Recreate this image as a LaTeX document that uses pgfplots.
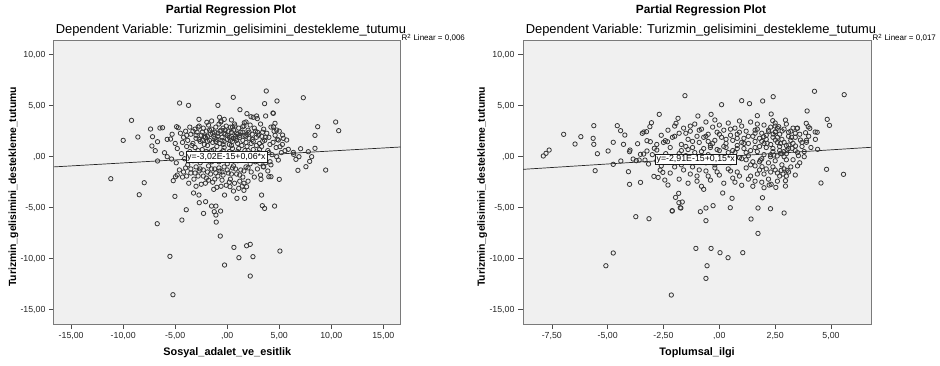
\documentclass[border=0pt]{standalone}
\usepackage{fontspec}
\setmainfont{Liberation Sans}
\usepackage{pgfplots}
\usepackage{pgfplotstable}
\pgfplotsset{compat=1.18}
\definecolor{bgc}{HTML}{F0F0F0}
\definecolor{mk}{HTML}{363636}
\definecolor{axc}{HTML}{7A7A7A}

\pgfplotstableread{
x y
3.75 6.44
0.58 5.82
7.31 5.78
-4.58 5.26
-3.72 5.03
-0.90 5.03
3.59 5.20
4.78 5.46
1.22 4.61
4.39 4.28
1.89 4.22
2.82 3.99
2.50 3.86
3.69 3.99
-2.72 3.66
-1.96 3.37
-0.74 3.86
-0.29 3.66
-0.61 3.40
-9.20 3.56
10.42 3.40
10.71 2.55
8.69 2.94
8.43 2.09
-10.0 1.60
-8.59 1.93
-7.37 2.71
-7.18 1.96
-6.47 2.81
-6.22 2.84
-6.70 1.47
-7.24 1.05
-6.92 0.59
-6.03 0.39
-5.77 1.70
-5.45 1.73
-6.70 -0.42
-5.77 0.00
-5.35 -0.23
-4.87 2.94
-4.71 2.84
-11.19 -2.16
-7.98 -2.55
-8.46 -3.73
-5.19 -2.35
-4.97 -1.96
-4.81 -1.80
-5.03 -3.89
-3.94 -5.20
-6.73 -6.57
-4.36 -6.21
-3.24 -3.56
-2.72 -3.76
-2.69 -4.51
-2.08 -4.41
-2.28 -5.56
-1.51 -4.84
-1.09 -4.84
-1.25 -5.39
-1.09 -5.72
-0.64 -5.33
-1.06 -6.41
-0.67 -7.78
-0.26 -3.76
0.93 -4.08
1.67 -4.08
3.30 -3.76
3.37 -4.80
3.59 -5.07
4.55 -4.84
5.00 -2.22
6.79 -1.34
7.56 -0.98
9.46 -1.31
7.92 -0.46
8.11 0.00
7.05 0.78
7.79 0.49
8.43 0.82
6.38 0.23
6.60 -0.26
6.89 0.00
0.64 -8.89
1.86 -8.73
2.21 -8.59
1.12 -9.90
2.47 -9.80
5.06 -9.25
-0.26 -10.62
-5.51 -9.77
2.21 -11.70
-5.22 -13.53
4.00 -1.96
4.20 -1.96
3.24 -2.22
1.60 -3.30
1.86 -2.94
1.44 -2.88
0.60 -3.37
0.26 -2.94
5.87 0.72
5.55 0.59
6.35 0.42
4.91 1.63
5.07 0.98
4.75 0.00
4.91 -0.33
4.11 -0.49
3.46 -0.98
3.14 -0.65
4.43 2.94
4.59 3.27
4.75 2.61
5.32 2.12
5.39 1.80
5.71 1.63
4.43 4.25
2.28 3.92
2.89 3.73
1.64 3.33
0.74 3.01
1.48 2.94
-4.5 2.3
-4.2 1.9
-4.0 2.5
-3.8 1.6
-3.6 2.9
-3.5 2.2
-3.3 1.3
-3.1 2.7
-3.0 1.8
-2.9 2.4
-2.7 3.0
-2.6 1.5
-2.5 2.1
-2.3 2.8
-2.2 1.2
-2.1 1.9
-2.0 2.5
-1.8 3.1
-1.7 1.6
-1.6 2.2
-1.5 2.7
-1.4 1.4
-1.3 2.0
-1.1 2.9
-1.0 1.7
-0.9 2.3
-0.8 3.2
-0.7 1.3
-0.6 2.6
-0.5 1.9
-0.4 2.8
-0.3 1.5
-0.2 2.2
-0.1 3.0
0.0 1.7
0.1 2.5
0.2 1.2
0.3 2.9
0.4 2.0
0.5 1.5
0.6 2.6
0.7 3.2
0.8 1.8
0.9 2.3
1.0 1.3
1.1 2.8
1.2 1.9
1.3 2.4
1.5 1.6
1.6 3.0
1.7 2.1
1.8 1.4
2.0 2.6
2.1 1.8
2.2 3.1
2.4 2.2
2.5 1.5
2.6 2.8
2.8 1.9
2.9 2.4
3.1 1.3
3.2 3.2
3.3 2.0
3.5 2.7
3.6 1.6
3.8 2.3
4.0 1.9
4.2 2.9
4.4 1.4
4.6 2.1
5.0 2.5
5.3 1.2
-4.8 0.8
-4.4 0.3
-4.1 -0.2
-3.9 1.0
-3.6 0.5
-3.3 -0.4
-3.1 0.9
-2.9 0.2
-2.6 -0.6
-2.4 0.7
-2.1 0.1
-1.9 1.1
-1.7 -0.3
-1.5 0.6
-1.2 0.0
-1.0 1.0
-0.8 -0.5
-0.6 0.4
-0.3 0.9
-0.1 -0.2
0.2 0.5
0.4 1.1
0.6 -0.4
0.9 0.3
1.1 0.8
1.4 -0.1
1.7 0.6
1.9 1.0
2.2 0.0
2.5 0.7
2.7 -0.5
3.0 0.4
3.3 1.0
3.6 -0.2
3.9 0.6
4.3 0.2
4.7 0.9
5.2 0.4
-4.6 -1.3
-4.3 -2.0
-4.0 -1.1
-3.7 -2.6
-3.5 -1.6
-3.2 -2.2
-3.0 -1.0
-2.8 -1.9
-2.5 -2.7
-2.3 -1.3
-2.0 -2.1
-1.8 -0.9
-1.6 -1.7
-1.4 -2.5
-1.2 -1.2
-1.0 -3.0
-0.9 -1.9
-0.7 -1.4
-0.5 -2.3
-0.3 -1.0
-0.1 -2.8
0.1 -1.6
0.3 -2.2
0.5 -1.1
0.7 -2.6
0.9 -1.7
1.1 -3.1
1.3 -1.3
1.5 -2.0
1.8 -1.0
2.0 -2.4
2.3 -1.5
2.6 -2.0
2.9 -1.2
3.2 -1.8
3.5 -1.0
3.9 -1.4
4.2 -0.8
-2.4 1.6
-1.9 2.0
-1.1 1.5
-0.4 1.2
0.3 1.6
0.8 2.0
1.4 1.1
1.9 2.2
2.3 1.3
-1.2 2.4
-0.2 2.6
0.5 2.9
1.0 2.2
-2.8 2.9
-3.4 1.1
-1.5 -0.5
-0.5 -1.5
0.0 -0.7
0.6 -0.9
1.2 -2.4
-2.6 -1.2
-3.8 -0.8
2.2 -0.7
2.8 1.1
3.4 1.5
4.1 1.2
-0.9 0.3
0.1 0.2
1.0 -0.4
-1.8 -2.3
-1.3 -3.2
-0.6 -2.9
-2.0 0.5
-3.0 -2.9
-5.0 1.3
-5.3 2.2
-4.9 -0.6
-3.0 2.1
-2.7 1.7
-2.4 2.4
-2.2 2.0
-1.9 1.5
-1.7 2.6
-1.4 2.3
-1.2 1.8
-0.9 2.0
-0.7 2.5
-0.5 1.6
-0.3 2.3
0.0 2.1
0.2 1.9
0.4 2.4
0.6 1.8
0.9 1.6
1.2 2.1
1.5 2.4
1.8 2.0
2.1 2.4
2.4 1.7
2.7 2.5
3.0 2.1
3.4 2.4
3.7 1.9
-2.8 0.6
-2.3 0.2
-1.8 0.4
-1.3 0.7
-0.8 0.2
-0.4 0.6
0.0 0.3
0.5 0.8
1.0 0.5
1.5 0.3
2.0 0.6
2.6 0.2
3.1 0.7
-3.5 -1.2
-3.1 -1.6
-2.7 -1.4
-2.3 -1.9
-1.9 -1.5
-1.5 -1.2
-1.1 -1.6
-0.8 -1.1
-0.4 -1.8
0.0 -1.3
0.4 -1.7
0.8 -1.2
1.2 -1.8
1.6 -1.4
2.0 -1.1
-4.2 -1.5
-3.9 -1.9
-2.1 -2.6
-1.2 -2.2
0.2 -2.5
1.6 -2.6
-3.3 2.5
-3.9 2.1
-4.3 1.4
4.5 2.5
4.8 1.7
4.0 0.4
3.7 -0.6
-0.6 3.5
0.4 3.6
1.8 3.4
-1.5 3.5
}\leftdata

\pgfplotstableread{
x y
-7.88 0.07
-7.76 0.33
-7.62 0.65
-6.97 2.19
-6.46 1.24
-6.20 1.96
-5.62 3.04
-5.65 1.80
-5.62 1.21
-5.46 0.29
-5.56 -1.37
-4.98 0.56
-4.75 1.41
-4.75 -0.75
-4.57 3.04
-4.42 2.55
-4.23 2.12
-4.29 1.21
-4.41 -0.42
-4.07 -1.47
-4.02 -2.71
-4.00 0.65
-4.02 0.49
-3.66 1.27
-3.53 -2.52
-3.74 -5.88
-3.15 -6.08
-4.75 -9.44
-5.08 -10.69
-2.15 -13.56
-2.69 4.15
-1.54 5.98
-3.45 2.29
-3.38 2.42
-3.26 2.45
-3.11 2.94
-3.04 3.33
-1.94 3.27
-1.85 3.76
0.10 5.10
1.00 5.49
1.35 5.20
1.94 5.46
2.41 5.88
-0.96 3.99
-0.37 4.15
1.70 4.02
2.32 4.18
-2.11 -5.29
-1.75 -5.00
-0.85 -5.39
-0.60 -5.03
-0.28 -4.80
-0.60 -6.27
0.15 -3.56
0.57 -4.08
0.49 -5.00
1.42 -6.11
1.73 -5.03
2.29 -5.10
1.93 -4.02
1.73 -7.52
-1.05 -8.99
-0.37 -8.99
0.03 -9.41
0.39 -9.90
1.05 -9.41
-0.55 -10.69
-0.60 -11.93
2.00 -3.04
2.23 -2.78
2.53 -3.01
4.26 6.41
5.59 6.08
3.93 4.48
2.39 3.53
2.96 3.59
4.83 3.66
4.93 3.07
3.89 3.27
3.98 2.94
4.05 2.78
3.86 2.35
4.29 2.42
4.38 2.39
4.30 1.70
3.90 1.41
3.48 2.78
3.63 1.63
3.23 1.90
2.66 2.94
2.81 2.52
2.52 2.45
2.41 2.22
4.40 0.72
3.54 0.10
4.80 -1.24
5.56 -1.73
4.55 -2.58
2.77 -1.34
2.85 -1.70
3.03 -1.34
2.96 -2.35
2.96 -2.88
2.32 -2.71
2.90 -5.52
-3.53 0.23
-3.39 0.26
-3.33 -0.33
-3.24 0.56
-3.17 -0.72
-3.86 -0.23
-3.72 -0.39
-3.59 -0.33
-3.24 1.57
-3.09 1.47
-2.91 0.82
-2.80 0.65
-2.65 -1.31
-2.53 -1.54
-2.93 -1.93
-2.74 -2.03
-2.44 -2.29
-2.30 -2.78
-2.32 1.47
-2.42 1.57
-2.20 -0.33
-1.94 -0.10
-1.96 -3.99
-1.81 -4.51
-1.66 -4.44
-1.72 -5.03
-2.11 -5.33
-1.82 -3.59
-2.3 2.6
-2.1 1.9
-2.0 3.0
-1.8 2.3
-1.7 1.2
-1.6 2.8
-1.4 1.7
-1.3 2.5
-1.2 0.9
-1.1 3.2
-1.0 2.0
-0.9 1.4
-0.8 2.7
-0.7 1.9
-0.6 3.4
-0.5 2.2
-0.4 1.1
-0.3 2.9
-0.2 1.6
-0.1 2.4
0.0 3.1
0.1 1.9
0.2 2.6
0.3 1.3
0.4 3.3
0.5 2.1
0.6 1.6
0.7 2.8
0.8 1.1
0.9 2.4
1.0 3.0
1.1 1.8
1.2 2.5
1.3 1.3
1.4 3.4
1.5 2.0
1.6 1.5
1.7 2.7
1.8 1.0
1.9 2.3
2.0 3.1
2.1 1.7
2.2 2.6
2.3 1.2
2.4 1.9
2.5 3.0
2.6 1.4
2.7 2.2
2.8 1.7
2.9 2.7
3.0 1.1
3.1 2.0
3.2 2.5
3.3 1.3
3.4 1.9
3.6 2.2
3.7 1.0
-2.4 0.3
-2.2 0.9
-1.9 -0.2
-1.7 0.6
-1.5 0.1
-1.3 -0.5
-1.1 0.4
-0.9 -0.3
-0.7 0.8
-0.5 0.2
-0.3 -0.4
-0.1 0.7
0.1 0.0
0.3 0.9
0.5 -0.6
0.7 0.4
0.9 -0.1
1.1 0.8
1.3 0.1
1.5 -0.5
1.7 0.5
1.9 -0.2
2.1 0.9
2.3 0.2
2.5 -0.4
2.7 0.6
2.9 0.0
3.1 0.8
3.3 -0.3
3.5 0.4
3.8 0.0
4.1 0.9
-2.6 -0.9
-2.2 -1.6
-2.0 -1.0
-1.8 -2.2
-1.6 -1.3
-1.4 -2.6
-1.2 -1.0
-1.0 -1.9
-0.8 -2.9
-0.6 -1.4
-0.4 -2.3
-0.2 -1.1
0.0 -1.8
0.2 -2.6
0.4 -1.2
0.6 -2.1
0.8 -1.5
1.0 -2.8
1.2 -1.1
1.4 -1.9
1.6 -2.4
1.8 -1.3
2.0 -1.7
2.2 -2.2
2.4 -1.0
2.6 -1.6
2.8 -0.8
3.2 -1.0
3.4 -1.8
3.6 -0.6
0.2 1.0
0.6 0.6
1.0 1.4
1.4 0.6
1.6 2.3
2.0 1.3
2.2 -0.6
2.5 2.4
2.8 0.3
3.0 -0.3
1.2 -0.3
0.8 1.8
1.8 1.8
2.4 0.8
2.6 2.8
3.2 1.6
-0.5 1.5
-1.5 1.0
-2.0 2.0
-0.2 -0.8
0.4 -0.2
1.6 -0.9
2.9 -1.2
3.5 2.8
3.9 1.6
-2.8 1.2
-2.6 2.1
-3.0 0.2
-2.8 -0.4
-1.0 -2.4
0.7 -2.5
1.5 -2.9
-0.7 -3.2
2.29 0.00
2.44 0.16
2.59 0.07
2.74 0.33
2.88 0.49
3.03 0.65
3.11 1.14
1.84 -0.33
1.91 -0.98
2.14 1.31
1.99 1.96
2.21 2.45
2.51 1.63
2.74 1.31
3.26 0.82
3.41 1.05
-1.5 2.3
-1.2 1.5
-0.9 2.6
-0.6 2.0
-0.3 1.3
0.0 2.2
0.3 1.7
0.5 2.7
0.8 2.2
1.1 1.3
1.3 2.0
1.6 2.6
1.9 1.5
2.1 2.1
2.3 2.9
2.6 1.9
2.9 1.4
3.1 2.4
3.4 2.3
-1.8 0.3
-1.4 0.7
-0.8 0.5
-0.4 0.9
0.0 0.6
0.4 0.4
0.8 0.8
1.2 0.4
1.6 0.9
2.0 0.2
2.4 0.5
2.7 1.0
3.0 0.3
3.4 0.6
1.0 -0.2
1.4 -0.8
1.8 -0.5
2.1 -1.2
2.5 -1.3
2.7 -1.9
3.1 -1.5
0.5 -1.4
0.9 -1.9
1.3 -2.2
1.7 -1.7
2.3 -1.5
-0.1 -1.5
-0.5 -1.9
-0.9 -1.3
-1.3 -1.7
-1.7 -0.8
0.3 -0.5
-0.6 -0.6
3.0 -1.9
2.6 -2.4
1.9 -2.5
2.5 3.3
3.0 3.2
3.3 2.8
0.9 3.5
-0.2 3.6
-1.3 3.0
1.7 3.2
3.7 1.4
4.0 2.0
3.8 0.5
3.5 -0.9
-2.5 1.4
-2.1 -0.4
}\rightdata

\tikzset{
  eqbox/.style={draw=black!90, fill=white, anchor=west, inner sep=1.3pt, line width=0.6pt, font=\fontsize{8.8}{10}\selectfont},
}
\pgfplotsset{
  sp/.style={
    anchor=south west, scale only axis, height=283pt,
    axis background/.style={fill=bgc},
    axis line style={axc, line width=1pt},
    tick align=outside, major tick length=5pt,
    tick style={black!70, line width=0.6pt},
    xtick pos=bottom, ytick pos=left,
    ymin=-16.4, ymax=11.34,
    ytick={-15,-10,-5,0,5,10},
    yticklabels={{-15,00},{-10,00},{-5,00},{,00},{5,00},{10,00}},
    tick label style={font=\fontsize{8.8}{10}\selectfont, black!85},
    xlabel style={font=\fontsize{10.9}{12}\bfseries\selectfont, at={(axis description cs:0.5,-0.1014)}, anchor=center},
    ylabel style={font=\fontsize{10.4}{12}\bfseries\selectfont, at={(axis description cs:-0.1169,0.485)}, anchor=center},
    ylabel={Turizmin\_gelisimini\_destekleme\_tutumu},
  },
  dots/.style={only marks, mark=o, mark size=2.2pt, mk, mark options={line width=0.8pt}},
  fitl/.style={black!85, line width=0.7pt, no marks},
}

\begin{document}
\begin{tikzpicture}
\path[use as bounding box] (0,0) rectangle (940pt,365pt);

% Left plot
\begin{axis}[sp, at={(54pt,41pt)}, width=346.5pt,
  xmin=-16.65, xmax=16.65,
  xtick={-15,-10,-5,0,5,10,15},
  xticklabels={{-15,00},{-10,00},{-5,00},{,00},{5,00},{10,00},{15,00}},
  xlabel={Sosyal\_adalet\_ve\_esitlik}]
\addplot[dots] table[x=x,y=y] {\leftdata};
\addplot[fitl] coordinates {(-16.65,-1.0) (16.65,0.95)};
\coordinate (eqA) at (axis cs:-4.0,-0.03);
\end{axis}
\node[eqbox] at (eqA) {y=-3,02E-15+0,06*x};

% Right plot
\begin{axis}[sp, at={(523pt,41pt)}, width=348pt,
  xmin=-8.79, xmax=6.79,
  xtick={-7.5,-5,-2.5,0,2.5,5},
  xticklabels={{-7,50},{-5,00},{-2,50},{,00},{2,50},{5,00}},
  xlabel={Toplumsal\_ilgi}]
\addplot[dots] table[x=x,y=y] {\rightdata};
\addplot[fitl] coordinates {(-8.79,-1.24) (6.79,0.92)};
\coordinate (eqB) at (axis cs:-2.88,-0.24);
\end{axis}
\node[eqbox] at (eqB) {y=-2,91E-15+0,15*x};

% Titles and R2 labels
\node[font=\fontsize{11.9}{14}\bfseries\selectfont] at (231pt,355pt) {Partial Regression Plot};
\node[font=\fontsize{12.9}{15}\selectfont] at (231pt,335pt) {Dependent Variable: Turizmin\_gelisimini\_destekleme\_tutumu};
\node[font=\fontsize{11.9}{14}\bfseries\selectfont] at (701pt,355pt) {Partial Regression Plot};
\node[font=\fontsize{12.9}{15}\selectfont] at (701pt,335pt) {Dependent Variable: Turizmin\_gelisimini\_destekleme\_tutumu};
\node[font=\fontsize{8}{9}\selectfont, anchor=base west, inner sep=0pt] at (401.5pt,324pt) {R\textsuperscript{2} Linear = 0,006};
\node[font=\fontsize{8}{9}\selectfont, anchor=base west, inner sep=0pt] at (872.5pt,324pt) {R\textsuperscript{2} Linear = 0,017};
\end{tikzpicture}
\end{document}
